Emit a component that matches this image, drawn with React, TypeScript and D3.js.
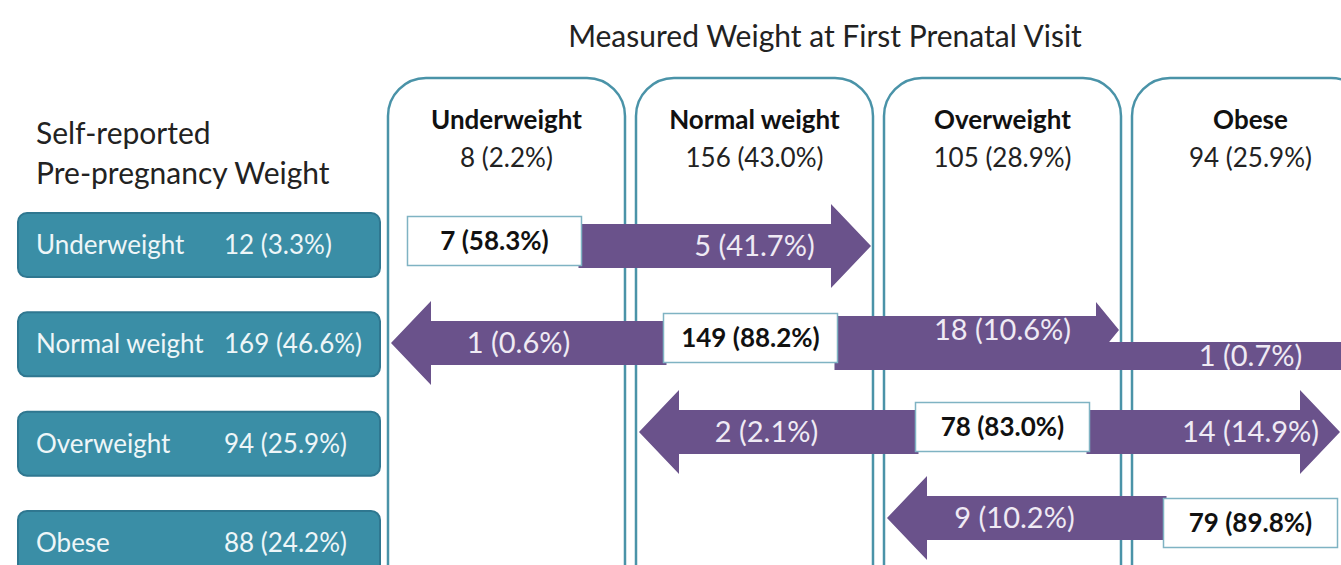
import React from "react";
import * as d3 from "d3";

const categories = ["Underweight", "Normal weight", "Overweight", "Obese"];
const selfN = [12, 169, 94, 88];
const selfPct = [3.3, 46.6, 25.9, 24.2];
const measuredN = [8, 156, 105, 94];
const measuredPct = [2.2, 43.0, 28.9, 25.9];
// transitions: self-reported (from) -> measured (to)
const transFrom = [0, 0, 1, 1, 1, 1, 2, 2, 2, 3, 3];
const transTo = [0, 1, 0, 1, 2, 3, 1, 2, 3, 2, 3];
const transN = [7, 5, 1, 149, 18, 1, 2, 78, 14, 9, 79];
const transPct = [58.3, 41.7, 0.6, 88.2, 10.6, 0.7, 2.1, 83.0, 14.9, 10.2, 89.8];

const W = 1341;
const H = 565;
const FONT = "Lato, 'Open Sans', sans-serif";
const TEAL = "#3a8ea6";
const TEAL_DARK = "#2f7790";
const COL_STROKE = "#4a93a8";
const PURPLE = "#6a528b";
const LABEL_LIGHT = "#efeaf4";

// layout (not data)
const rowCenters = [246, 343, 432, 518];
const stayBoxOffset = [-5, -5, -5, 5];
const stayBoxShift = [-12, -4, 0, 0];

const fmt = (n: number, p: number) => `${n} (${p.toFixed(1)}%)`;

export default function App() {
  const x = d3.scaleBand<string>().domain(categories).range([388, 1369]).paddingInner(0.0444).paddingOuter(0);
  const bw = x.bandwidth();
  const rowBox = d3.scaleBand<string>().domain(categories).range([213, 575]).paddingInner(0.355).paddingOuter(0);
  const rowY = d3.scaleOrdinal<string, number>().domain(categories).range(rowCenters);

  const line = d3.line<[number, number]>();
  const boxW = 174;
  const boxH = 49;

  const trans = transFrom.map((f, i) => ({ from: f, to: transTo[i], n: transN[i], pct: transPct[i] }));

  const arrows = trans
    .filter((t) => t.from !== t.to)
    .map((t) => {
      const dir = t.to > t.from ? 1 : -1;
      const sameDir = trans
        .filter((u) => u.from === t.from && u.to !== u.from && Math.sign(u.to - u.from) === dir)
        .sort((a, b) => a.to - b.to);
      const k = sameDir.length;
      const idx = sameDir.indexOf(t);
      const stacked = k > 1;
      const yc = rowY(categories[t.from]) + (stacked ? (idx - (k - 1) / 2) * 26 : 0);
      const sh = stacked ? 14 : 22;
      const hh = stacked ? 28 : 42;
      const hl = stacked ? 23 : 40;
      const x0 = x(categories[t.from])! + bw / 2 + stayBoxShift[t.from] + dir * (boxW / 2 - 3);
      let tip = dir > 0 ? x(categories[t.to])! + bw - 2 : x(categories[t.to])! + 3;
      if (!stacked && dir > 0) tip = Math.min(tip, W - 1);
      const hb = tip - dir * hl;
      const pts: [number, number][] = [
        [x0, yc - sh],
        [hb, yc - sh],
        [hb, yc - hh],
        [tip, yc],
        [hb, yc + hh],
        [hb, yc + sh],
        [x0, yc + sh],
      ];
      const lx = x(categories[t.to])! + bw / 2 + (dir < 0 ? 12 : 0);
      return { ...t, d: line(pts)! + "Z", yc, lx };
    });

  const stays = trans.filter((t) => t.from === t.to);

  return (
    <svg width={W} height={H} style={{ position: "absolute", left: 0, top: 0, background: "#fff" }} fontFamily={FONT}>
      <rect x={0} y={0} width={W} height={H} fill="#fff" />
      {/* main title */}
      <text x={825} y={47} textAnchor="middle" fontSize={30} fill="#222">
        Measured Weight at First Prenatal Visit
      </text>
      {/* left title */}
      <text x={36} y={144} fontSize={30} fill="#222">Self-reported</text>
      <text x={36} y={184} fontSize={30} fill="#222">Pre-pregnancy Weight</text>

      {/* column boxes */}
      {categories.map((c, i) => (
        <g key={c}>
          <rect x={x(c)} y={78} width={bw} height={530} rx={38} ry={38} fill="#fff" stroke={COL_STROKE} strokeWidth={2.5} />
          <text x={x(c)! + bw / 2} y={129} textAnchor="middle" fontSize={26} fontWeight="bold" fill="#111">
            {c}
          </text>
          <text x={x(c)! + bw / 2} y={167} textAnchor="middle" fontSize={26} fill="#222">
            {fmt(measuredN[i], measuredPct[i])}
          </text>
        </g>
      ))}

      {/* left row boxes */}
      {categories.map((c, i) => (
        <g key={"r" + c}>
          <rect x={18} y={rowBox(c)} width={362} height={rowBox.bandwidth()} rx={9} fill={TEAL} stroke={TEAL_DARK} strokeWidth={2} />
          <text x={36} y={rowBox(c)! + rowBox.bandwidth() / 2} dy="0.35em" fontSize={26} fill="#eef6f8">
            {c}
          </text>
          <text x={224} y={rowBox(c)! + rowBox.bandwidth() / 2} dy="0.35em" fontSize={26} fill="#eef6f8">
            {fmt(selfN[i], selfPct[i])}
          </text>
        </g>
      ))}

      {/* arrows */}
      {arrows.map((a, i) => (
        <path key={"a" + i} d={a.d} fill={PURPLE} />
      ))}
      {arrows.map((a, i) => (
        <text key={"al" + i} x={a.lx} y={a.yc} dy="0.35em" textAnchor="middle" fontSize={29} fill={LABEL_LIGHT}>
          {fmt(a.n, a.pct)}
        </text>
      ))}

      {/* diagonal (same category) boxes */}
      {stays.map((s, i) => {
        const cx = x(categories[s.from])! + bw / 2 + stayBoxShift[s.from];
        const cy = rowY(categories[s.from]) + stayBoxOffset[s.from];
        return (
          <g key={"s" + i}>
            <rect x={cx - boxW / 2} y={cy - boxH / 2} width={boxW} height={boxH} fill="#fff" stroke="#7fb3c3" strokeWidth={1.5} />
            <text x={cx} y={cy} dy="0.35em" textAnchor="middle" fontSize={26} fontWeight="bold" fill="#111">
              {fmt(s.n, s.pct)}
            </text>
          </g>
        );
      })}
    </svg>
  );
}
